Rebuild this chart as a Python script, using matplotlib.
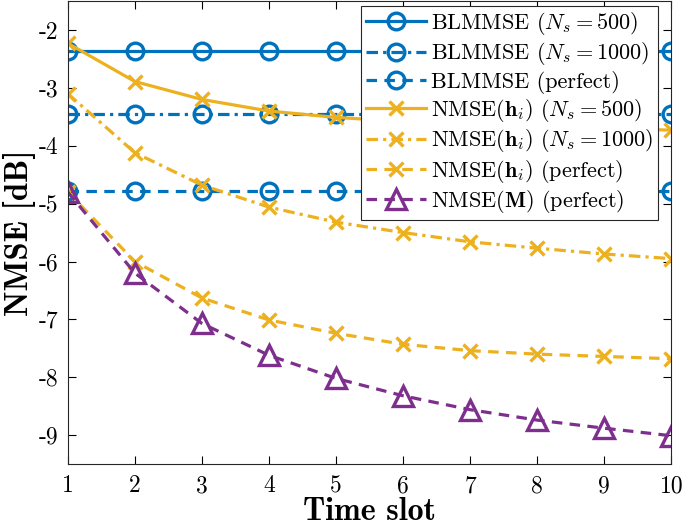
import matplotlib.pyplot as plt

plt.rcParams['font.family'] = 'cmr10'
plt.rcParams['mathtext.fontset'] = 'cm'
plt.rcParams['axes.unicode_minus'] = False

slots = list(range(1, 11))

bl_500 = [-2.37] * 10
bl_1000 = [-3.45] * 10
bl_perfect = [-4.79] * 10
h_500 = [-2.23, -2.89, -3.20, -3.40, -3.51, -3.58, -3.63, -3.67, -3.70, -3.73]
h_1000 = [-3.10, -4.12, -4.68, -5.06, -5.32, -5.50, -5.66, -5.77, -5.87, -5.95]
h_perfect = [-4.80, -6.00, -6.63, -7.01, -7.24, -7.43, -7.54, -7.60, -7.64, -7.68]
m_perfect = [-4.80, -6.20, -7.07, -7.62, -8.02, -8.32, -8.56, -8.74, -8.88, -9.01]

blue = '#0072BD'
yellow = '#EDB120'
purple = '#7E2F8E'

dashed = (0, (3.3, 2.3))
dashdot = (0, (3.6, 1.6, 1.0, 1.6))

fig = plt.figure(figsize=(6.85, 5.31), dpi=100)
ax = fig.add_axes([0.099, 0.126, 0.881, 0.872])

lw = 2.3
mk = dict(markerfacecolor='none', markeredgewidth=2.4)
ax.plot(slots, bl_500, linestyle='-', color=blue, lw=lw, marker='o', ms=12, **mk,
        label=r'BLMMSE ($N_s=500$)')
ax.plot(slots, bl_1000, linestyle=dashdot, color=blue, lw=lw, marker='o', ms=12, **mk,
        label=r'BLMMSE ($N_s=1000$)')
ax.plot(slots, bl_perfect, linestyle=dashed, color=blue, lw=lw, marker='o', ms=12, **mk,
        label='BLMMSE (perfect)')
ax.plot(slots, h_500, linestyle='-', color=yellow, lw=lw, marker='x', ms=10, **mk,
        label=r'NMSE($\mathbf{h}_i$) ($N_s=500$)')
ax.plot(slots, h_1000, linestyle=dashdot, color=yellow, lw=lw, marker='x', ms=10, **mk,
        label=r'NMSE($\mathbf{h}_i$) ($N_s=1000$)')
ax.plot(slots, h_perfect, linestyle=dashed, color=yellow, lw=lw, marker='x', ms=10, **mk,
        label=r'NMSE($\mathbf{h}_i$) (perfect)')
ax.plot(slots, m_perfect, linestyle=dashed, color=purple, lw=lw, marker='^', ms=15, **mk,
        label=r'NMSE($\mathbf{M}$) (perfect)')

ax.set_xlim(1, 10)
ax.set_ylim(-9.5, -1.5)
ax.set_xticks(slots)
ax.set_xticklabels([str(s) for s in slots])
yt = list(range(-9, -1))
ax.set_yticks(yt)
ax.set_yticklabels([str(v) for v in yt])
ax.tick_params(direction='in', top=True, right=True, length=6, width=0.8,
               labelsize=17)
ax.tick_params(axis='x', pad=8)
ax.tick_params(axis='y', pad=7)
for s in ax.spines.values():
    s.set_linewidth(0.8)
    s.set_color('#262626')

ax.set_xlabel('Time slot', fontsize=23, family='cmb10', labelpad=0)
ax.set_ylabel('NMSE [dB]', fontsize=23.5, family='cmb10', labelpad=2)

leg = ax.legend(loc='upper right', bbox_to_anchor=(0.978, 0.99), fontsize=16,
                handlelength=2.7, handletextpad=0.25, borderpad=0.2,
                labelspacing=0.15, borderaxespad=0, fancybox=False,
                framealpha=1, edgecolor='#262626')
leg.get_frame().set_linewidth(0.8)

fig.savefig('out.png', dpi=100)
